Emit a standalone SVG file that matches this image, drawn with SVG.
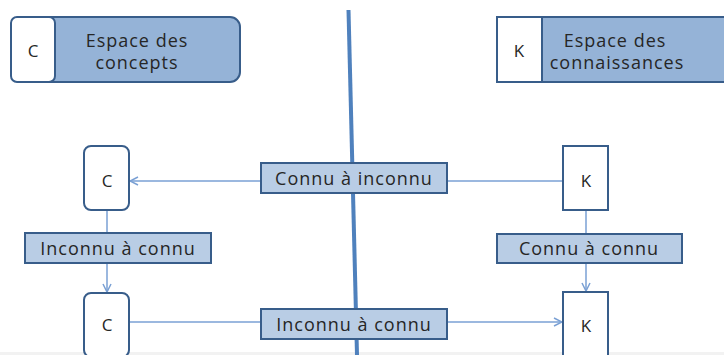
<svg xmlns="http://www.w3.org/2000/svg" width="724" height="355" viewBox="0 0 724 355">
<style>
text{font-family:"Open Sans","Liberation Sans",sans-serif;fill:#262626;text-anchor:middle;dominant-baseline:central;letter-spacing:1px}
.head{fill:#95b3d7;stroke:#385d8a;stroke-width:2}
.white{fill:#ffffff;stroke:#385d8a;stroke-width:2}
.lab{fill:#b9cde5;stroke:#385d8a;stroke-width:2}
.conn{stroke:#7aa0d4;stroke-width:1.5;fill:none}
.t15{font-size:17px;letter-spacing:0}
.t16{font-size:18px}
</style>
<defs>
<marker id="arr" viewBox="0 0 10 10" refX="9" refY="5" markerWidth="10" markerHeight="10" markerUnits="userSpaceOnUse" orient="auto">
<polyline points="1,1 9,5 1,9" fill="none" stroke="#7aa0d4" stroke-width="1.5"/>
</marker>
</defs>
<rect width="724" height="355" fill="#ffffff"/>
<rect x="0" y="352" width="724" height="3" fill="#f2f2f2"/>
<line x1="348.5" y1="10" x2="357" y2="355" stroke="#4f81bd" stroke-width="4"/>
<g id="connectors">
<line class="conn" x1="563" y1="181" x2="447" y2="181"/>
<line class="conn" x1="261" y1="181" x2="130" y2="181" marker-end="url(#arr)"/>
<line class="conn" x1="129" y1="322" x2="261" y2="322"/>
<line class="conn" x1="447" y1="322" x2="562" y2="322" marker-end="url(#arr)"/>
<line class="conn" x1="107" y1="210" x2="107" y2="233"/>
<line class="conn" x1="107" y1="263" x2="107" y2="292" marker-end="url(#arr)"/>
<line class="conn" x1="586" y1="210" x2="586" y2="234"/>
<line class="conn" x1="586" y1="263" x2="586" y2="291" marker-end="url(#arr)"/>
</g>
<g id="espace-concepts">
<rect class="head" x="11" y="17" width="229" height="65" rx="10"/>
<rect class="white" x="11" y="17" width="44" height="65" rx="6"/>
<text class="t15" x="33" y="50">C</text>
<text class="t16" x="137" y="40">Espace des</text>
<text class="t16" x="137" y="62">concepts</text>
</g>
<g id="espace-connaissances">
<rect class="head" x="497" y="17" width="232" height="65"/>
<rect class="white" x="497" y="17" width="45" height="65"/>
<text class="t15" x="519" y="50">K</text>
<text class="t16" x="615" y="40">Espace des</text>
<text class="t16" x="617" y="62">connaissances</text>
</g>
<g id="c1">
<rect class="white" x="84" y="146" width="45" height="64" rx="7"/>
<text class="t15" x="107" y="180">C</text>
</g>
<g id="c2">
<rect class="white" x="84" y="293" width="45" height="64" rx="7"/>
<text class="t15" x="107" y="324">C</text>
</g>
<g id="k1">
<rect class="white" x="563" y="146" width="45" height="64"/>
<text class="t15" x="586" y="180">K</text>
</g>
<g id="k2">
<rect class="white" x="563" y="292" width="45" height="65"/>
<text class="t15" x="586" y="325">K</text>
</g>
<g id="inconnu-connu-left">
<rect class="lab" x="25" y="233" width="186" height="30"/>
<text class="t16" x="118" y="248">Inconnu à connu</text>
</g>
<g id="connu-inconnu">
<rect class="lab" x="261" y="163" width="186" height="30"/>
<text class="t16" x="354" y="178">Connu à inconnu</text>
</g>
<g id="inconnu-connu-mid">
<rect class="lab" x="261" y="309" width="186" height="30"/>
<text class="t16" x="354" y="324">Inconnu à connu</text>
</g>
<g id="connu-connu">
<rect class="lab" x="497" y="234" width="185" height="29"/>
<text class="t16" x="589" y="248">Connu à connu</text>
</g>
</svg>
